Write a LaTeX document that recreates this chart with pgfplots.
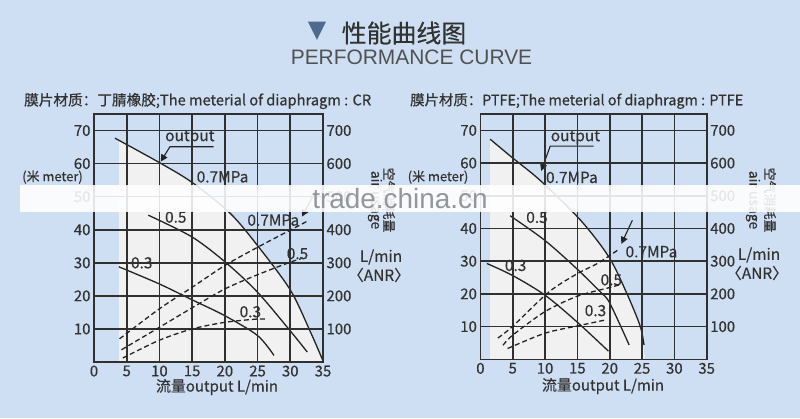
\documentclass[border=0pt]{standalone}
\usepackage{fontspec}
\setmainfont{Noto Sans CJK SC}[FakeBold=0.3]
\newfontfamily\lib{Liberation Sans}
\newfontfamily\dv{DejaVu Sans}
\newfontfamily\hdr[FakeBold=0.6]{Noto Sans CJK SC}
\usepackage{graphicx}
\usepackage{pgfplots}
\pgfplotsset{compat=1.18}
\usetikzlibrary{arrows.meta}

\definecolor{bg}{RGB}{206,223,243}
\definecolor{shade}{RGB}{241,241,241}
\definecolor{gridc}{RGB}{48,48,48}
\definecolor{linec}{RGB}{35,35,35}
\definecolor{txt}{RGB}{50,50,50}
\definecolor{tri}{RGB}{78,106,140}

\newcommand\lbl{\fontsize{15.5}{15.5}\selectfont}
\newcommand\anr{\kern-0.5em〈ANR〉\kern-0.5em}

\tikzset{arr/.style={line width=1.1bp, draw=linec, -{Triangle[length=7bp,width=7bp]}}}

\pgfplotsset{
  perf/.style={scale only axis, xmin=0, xmax=35, ymin=0, ymax=75,
    xtick={0,5,...,35}, ytick={10,20,...,70},
    grid=major, major grid style={draw=gridc, line width=1.6bp},
    axis line style={draw=gridc, line width=1.6bp},
    major tick length=0pt, axis on top, clip=false,
    tick label style={font=\fontsize{15}{15}\selectfont, text=txt},
    /pgf/number format/assume math mode=true},
  air/.style={scale only axis, xmin=0, xmax=35, ymin=0, ymax=750,
    axis x line=none, axis y line*=right, ytick={100,200,...,700},
    major tick length=0pt, axis line style={draw=gridc, line width=1.6bp},
    tick label style={font=\fontsize{15}{15}\selectfont, text=txt},
    /pgf/number format/assume math mode=true},
  out/.style={line width=1.3bp, draw=linec, smooth, no markers},
  use/.style={line width=1.3bp, draw=linec, dash pattern=on 5bp off 3bp, smooth, no markers},
}

\begin{document}
\begin{tikzpicture}[x=1bp, y=1bp]
\path[use as bounding box, fill=bg] (0,0) rectangle (800,-418);

% title
\node[text=tri, font=\dv\fontsize{24}{24}\selectfont] at (317,-31) {▼};
\node[text=txt, font=\fontsize{25}{25}\selectfont] at (404,-33) {性能曲线图};
\node[text=txt!85!white, font=\lib\fontsize{21}{21}\selectfont] at (411.5,-57.5) {PERFORMANCE CURVE};

% headers
\node[anchor=west, inner sep=0, text=txt] at (24,-101)
  {\resizebox{347bp}{!}{\hdr\fontsize{13}{13}\selectfont 膜片材质：丁腈橡胶;The meterial of diaphragm : CR}};
\node[anchor=west, inner sep=0, text=txt] at (410,-101)
  {\resizebox{333bp}{!}{\hdr\fontsize{13}{13}\selectfont 膜片材质：PTFE;The meterial of diaphragm : PTFE}};

% ---- left chart: CR
\begin{axis}[perf, at={(94bp,-362bp)}, anchor=south west, width=229bp, height=248bp]
\addplot[fill=shade, draw=none, smooth] coordinates {
  (3.8,67.1) (10,60.3) (15,54.3) (20.8,45) (25,35.2) (30,21.5) (33,10) (34.9,0.5)} \closedcycle;
% output, head in m
\addplot[out] coordinates {(3.2,67.7) (10,60.3) (15,54.3) (20.8,45) (25,35.2) (30,21.8) (33.1,9) (34.9,0.8)};
\addplot[out] coordinates {(8.3,44.4) (15,37.8) (20.2,30) (25,21.1) (30,9.4) (32.6,3)};
\addplot[out] coordinates {(3.8,28.8) (10,23.6) (15,18.8) (20,14) (25,8) (27.5,2)};
\node[font=\lbl, text=txt] at (axis cs:14.65,67.9) {output};
\draw[arr] (axis cs:18.3,65.1) -- (axis cs:11.6,65.1) -- (axis cs:10.2,60.6);
\node[font=\lbl, text=txt] at (axis cs:19.65,56) {0.7MPa};
\node[font=\lbl, text=txt] at (axis cs:12.5,43.8) {0.5};
\node[font=\lbl, text=txt] at (axis cs:7.3,30) {0.3};
\node[font=\lbl, text=txt] at (axis cs:27.4,42.9) {0.7MPa};
\node[font=\lbl, text=txt] at (axis cs:31.1,32.8) {0.5};
\node[font=\lbl, text=txt] at (axis cs:23.9,15.2) {0.3};
\draw[arr] (axis cs:33.4,50) -- (axis cs:31.8,44);
\end{axis}
\begin{axis}[air, at={(94bp,-362bp)}, anchor=south west, width=229bp, height=248bp]
% air usage in L/min
\addplot[use] coordinates {(3.9,70) (10,161) (15,226) (20,292) (25,347) (30,399) (32.8,428)};
\addplot[use] coordinates {(4.2,37) (10,105) (15,164) (20,221) (25,264) (30,302) (31.6,312)};
\addplot[use] coordinates {(4.4,12) (10,66) (15,100) (20,120) (25,130) (26.4,129)};
\end{axis}

% ---- right chart: PTFE
\begin{axis}[perf, at={(480.4bp,-359.3bp)}, anchor=south west, width=226.3bp, height=245.3bp]
\addplot[fill=shade, draw=none, smooth] coordinates {
  (1.5,67.3) (4.9,61.7) (9.3,54.6) (15.5,42.5) (19.9,31.2) (22.7,19.9) (24.7,10.2) (25.4,0.5)} \closedcycle;
\addplot[out] coordinates {(1.5,67.3) (4.9,61.7) (9.3,54.6) (15.5,42.5) (19.9,31.2) (22.7,19.9) (24.7,10.2) (25.3,4.4)};
\addplot[out] coordinates {(4.6,43.9) (10,36.3) (14.9,27.7) (18.5,20.7) (20,17.2) (23,4.4)};
\addplot[out] coordinates {(1,29.3) (5,25.6) (10,19.6) (14.9,11.5) (19.8,2.5)};
\node[font=\lbl, text=txt] at (axis cs:14.7,67.8) {output};
\draw[arr] (axis cs:17.5,65.2) -- (axis cs:10.8,65.2) -- (axis cs:9.4,57.6);
\node[font=\lbl, text=txt] at (axis cs:14.15,55.6) {0.7MPa};
\node[font=\lbl, text=txt] at (axis cs:8.75,43.4) {0.5};
\node[font=\lbl, text=txt] at (axis cs:5.45,28.7) {0.3};
\node[font=\lbl, text=txt] at (axis cs:26.45,32.9) {0.7MPa};
\node[font=\lbl, text=txt] at (axis cs:20.25,24.3) {0.5};
\node[font=\lbl, text=txt] at (axis cs:17.8,14.9) {0.3};
\draw[arr] (axis cs:23.5,42.5) -- (axis cs:21.8,35.3);
\end{axis}
\begin{axis}[air, at={(480.4bp,-359.3bp)}, anchor=south west, width=226.3bp, height=245.3bp]
\addplot[use] coordinates {(2.7,65) (5,101) (10.6,206) (15,262) (18.1,293) (21.4,336)};
\addplot[use] coordinates {(3.5,43) (5,74) (10,146) (15,193) (19.9,219) (21.7,229)};
\addplot[use] coordinates {(4.2,33) (10,80) (15,102) (19.5,121)};
\end{axis}

% side texts, left chart
\node[text=txt, font=\fontsize{13}{13}\selectfont] at (52.5,-177) {(米 meter)};
\node[text=txt, rotate=-90, font=\fontsize{14}{14}\selectfont] at (375,-200) {air usage};
\node[text=txt, rotate=-90, font=\fontsize{13}{13}\selectfont] at (389,-200) {空气消耗量};
\node[text=txt, font=\fontsize{15.5}{15.5}\selectfont] at (381,-257) {L/min};
\node[text=txt, font=\fontsize{15.5}{15.5}\selectfont] at (379,-275) {\anr};
\node[text=txt, font=\fontsize{15}{15}\selectfont] at (217,-387) {流量output L/min};
% side texts, right chart
\node[text=txt, font=\fontsize{13}{13}\selectfont] at (438,-177) {(米 meter)};
\node[text=txt, rotate=-90, font=\fontsize{14}{14}\selectfont] at (753,-200) {air usage};
\node[text=txt, rotate=-90, font=\fontsize{13}{13}\selectfont] at (770,-200) {空气消耗量};
\node[text=txt, font=\fontsize{15.5}{15.5}\selectfont] at (759,-255) {L/min};
\node[text=txt, font=\fontsize{15.5}{15.5}\selectfont] at (757,-273) {\anr};
\node[text=txt, font=\fontsize{15}{15}\selectfont] at (603,-386) {流量output L/min};

% watermark band
\fill[white, opacity=0.88] (20,-185) rectangle (800,-212);
\node[anchor=base, text=gray!75!bg, font=\lib\fontsize{28}{28}\selectfont] at (400,-208) {trade.china.cn};
\end{tikzpicture}
\end{document}
